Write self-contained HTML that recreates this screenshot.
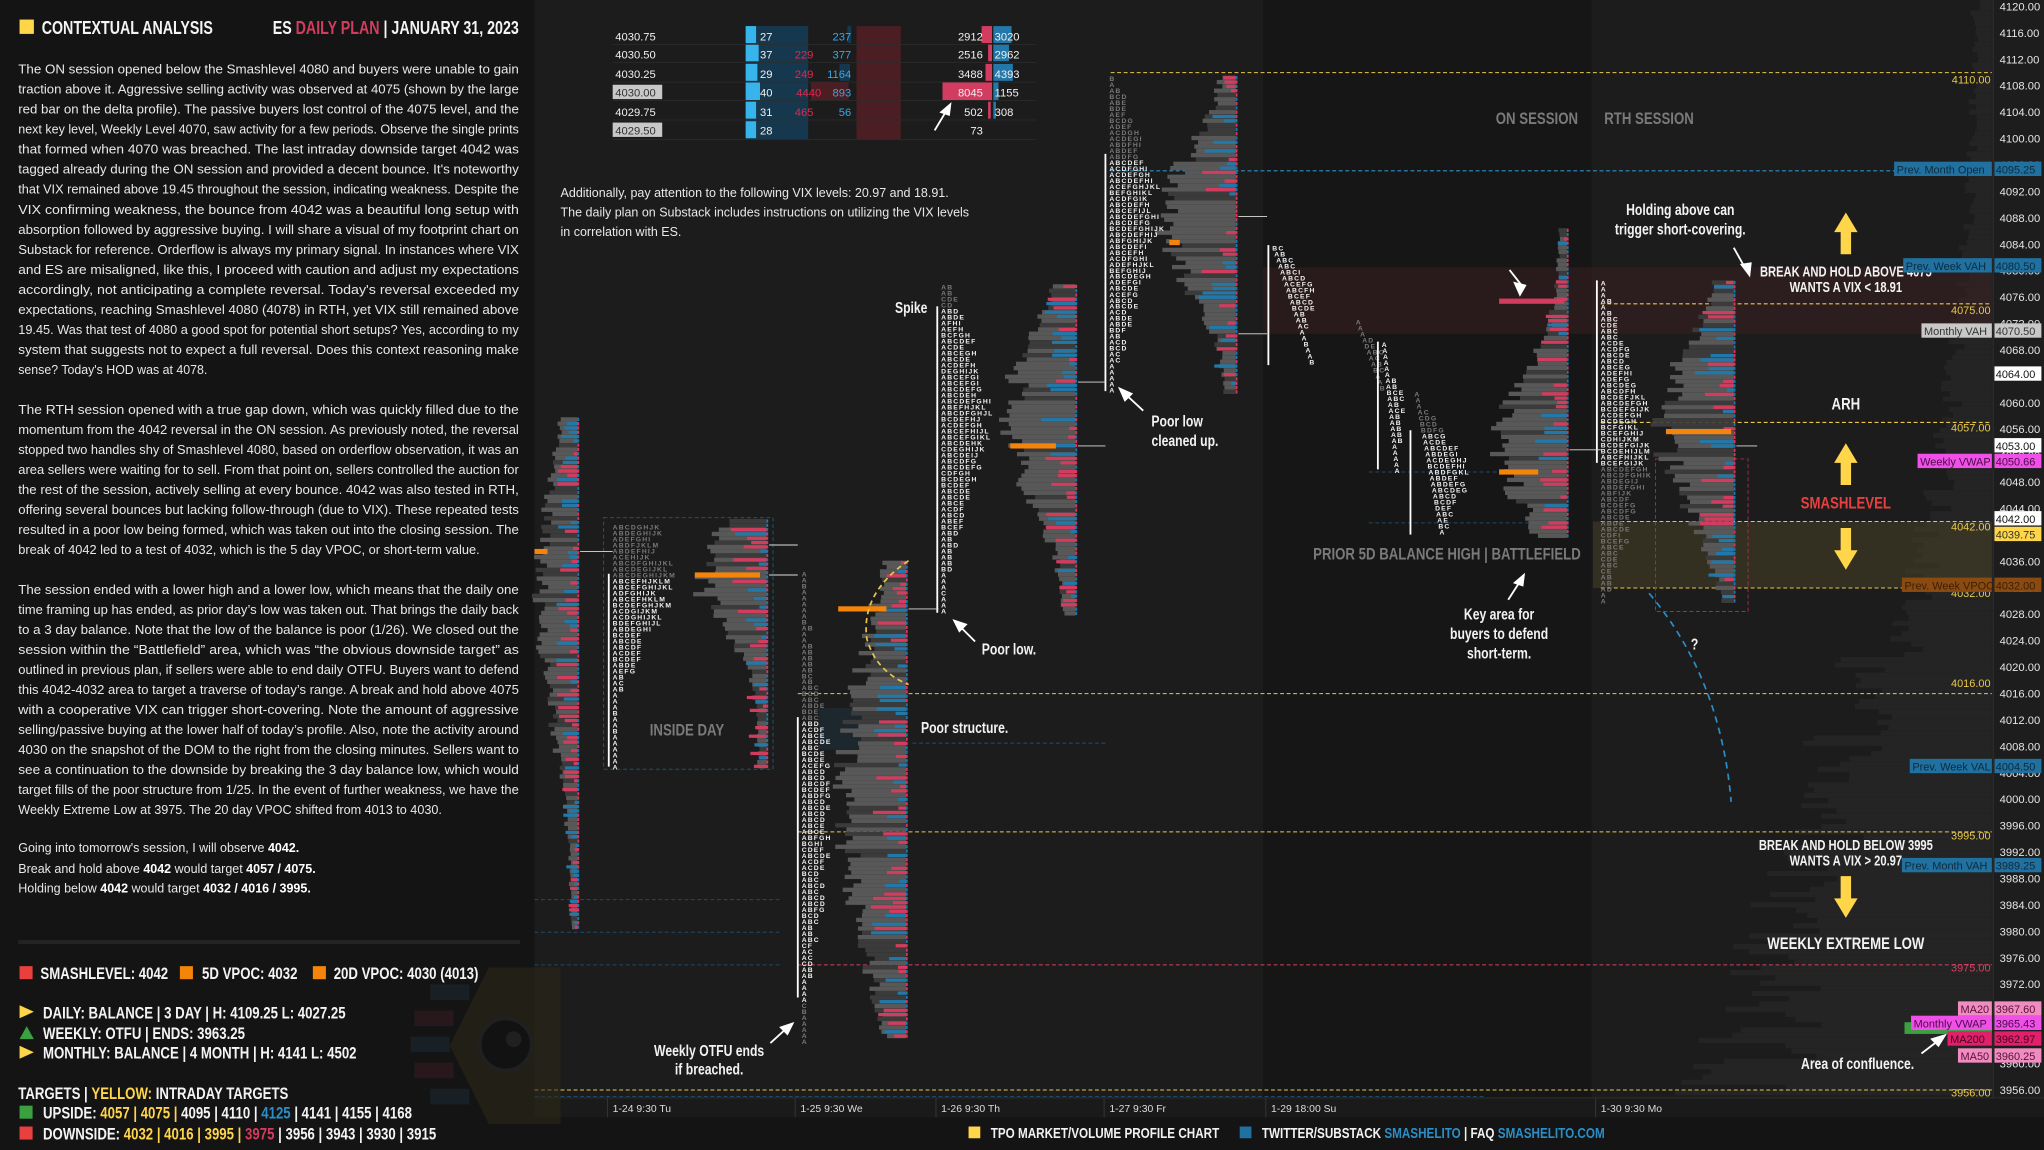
<!DOCTYPE html>
<html><head><meta charset="utf-8"><style>
html,body{margin:0;padding:0;background:#141414;overflow:hidden;width:2044px;height:1150px}
#wrap{position:absolute;left:0;top:0;width:1568px;height:882px;transform:scale(1.30357,1.30385);transform-origin:0 0}
svg{display:block}
.nar{font-family:"Liberation Sans",sans-serif;font-weight:bold}
.body{font-family:"Liberation Sans",sans-serif;font-size:9.6px;fill:#e8e8e8}
.ax{font-family:"Liberation Sans",sans-serif;font-size:8.6px;fill:#e6e6e6}
</style></head><body><div id="wrap">
<svg id="s" width="1568" height="882" viewBox="0 0 1568 882" xmlns="http://www.w3.org/2000/svg">
<rect x="0" y="0" width="1568" height="882" fill="#141414"/>
<rect x="410" y="0" width="1120" height="842" fill="#1c1c1c"/>
<rect x="969" y="0" width="252" height="842" fill="#161616"/>
<g id="bgvol"></g>
<rect x="1528" y="0" width="40" height="842" fill="#1d1d1d"/>
<line x1="1529" y1="0" x2="1529" y2="842" stroke="#2c2c2c"/>
<rect x="410" y="842" width="1158" height="15" fill="#1a1a1a"/>
<line x1="410" y1="842" x2="1568" y2="842" stroke="#2a2a2a"/>

<rect x="969" y="205" width="559" height="51" fill="#3a2020" opacity="0.55"/>
<rect x="1222" y="400" width="306" height="51" fill="#4a4328" opacity="0.5"/>

<g stroke-dasharray="3,2" stroke-width="0.8" fill="none">
<line x1="852" y1="55.7" x2="1528" y2="55.7" stroke="#e8c84a"/>
<line x1="852" y1="131" x2="1455" y2="131" stroke="#2a8fc8"/>
<line x1="1228" y1="233" x2="1528" y2="233" stroke="#e8c84a"/>
<line x1="1228" y1="324" x2="1528" y2="324" stroke="#e8c84a"/>
<line x1="1228" y1="400" x2="1528" y2="400" stroke="#e8c84a"/>
<line x1="1228" y1="451" x2="1528" y2="451" stroke="#e8c84a"/>
<line x1="612" y1="532" x2="1528" y2="532" stroke="#e8c84a"/>
<line x1="612" y1="638" x2="1528" y2="638" stroke="#e8c84a"/>
<line x1="612" y1="740" x2="1528" y2="740" stroke="#d6405e"/>
<line x1="410" y1="836" x2="1528" y2="836" stroke="#e8c84a"/>
<line x1="410" y1="841" x2="1140" y2="841" stroke="#1f4a66"/>
<line x1="410" y1="690" x2="600" y2="690" stroke="#1f4a66"/>
<line x1="410" y1="740" x2="600" y2="740" stroke="#1f4a66"/>
<line x1="410" y1="715" x2="600" y2="715" stroke="#1f4a66"/>
<line x1="700" y1="570" x2="850" y2="570" stroke="#1f4a66"/>
<line x1="1050" y1="362" x2="1200" y2="362" stroke="#1f4a66"/>
<line x1="1050" y1="401" x2="1200" y2="401" stroke="#1f4a66"/>
</g>
<g font-family="Liberation Sans,sans-serif" font-size="8.4" fill="#e8c84a" text-anchor="end">
<text x="1527" y="64">4110.00</text><text x="1527" y="241">4075.00</text><text x="1527" y="331">4057.00</text>
<text x="1527" y="407">4042.00</text><text x="1527" y="458">4032.00</text><text x="1527" y="527">4016.00</text>
<text x="1527" y="644">3995.00</text><text x="1527" y="745" fill="#d6405e">3975.00</text><text x="1527" y="841">3956.00</text>
</g>

<rect x="463" y="397" width="130" height="193" fill="none" stroke="#23506a" stroke-dasharray="3,2" stroke-width="0.8"/>
<rect x="628" y="543" width="57" height="32" fill="#1e2a33" opacity="0.8"/>
<rect x="1270" y="352" width="71" height="117" fill="none" stroke="#a03050" stroke-dasharray="3,2" stroke-width="0.7"/>

<g id="prof"></g>

<path d="M697 430 Q660 455 665 490 Q672 515 697 525" fill="none" stroke="#e8c84a" stroke-width="1.3" stroke-dasharray="4,3"/>
<path d="M1265 455 Q1320 520 1328 615" fill="none" stroke="#2a8fc8" stroke-width="1.3" stroke-dasharray="5,4"/>

<g font-family="Liberation Sans,sans-serif" font-size="8.6">
<rect x="572" y="20" width="48" height="87" fill="#16384e"/>
<rect x="572" y="20" width="8" height="13" fill="#38b4ec"/><rect x="572" y="34" width="10" height="13" fill="#38b4ec"/><rect x="572" y="49" width="9" height="13" fill="#38b4ec"/><rect x="572" y="63" width="11" height="14" fill="#38b4ec"/><rect x="572" y="78" width="8" height="13" fill="#38b4ec"/><rect x="572" y="93" width="8" height="13" fill="#38b4ec"/>
<rect x="657" y="20" width="34" height="87" fill="#4a1e22"/>
<rect x="622" y="63" width="29" height="14" fill="#4a1e22"/>
<rect x="644" y="49" width="8" height="13" fill="#16384e"/><rect x="650" y="20" width="3" height="13" fill="#16384e"/>
<rect x="753" y="20" width="8" height="13" fill="#d23c5f"/><rect x="758" y="34" width="3" height="13" fill="#d23c5f"/><rect x="756" y="49" width="5" height="13" fill="#d23c5f"/><rect x="723" y="63" width="38" height="14" fill="#d23c5f"/><rect x="758" y="78" width="2" height="13" fill="#d23c5f"/>
<rect x="762" y="20" width="14" height="13" fill="#2278a8"/><rect x="762" y="34" width="12" height="13" fill="#2278a8"/><rect x="762" y="49" width="15" height="13" fill="#2278a8"/><rect x="762" y="63" width="4" height="14" fill="#2278a8"/><rect x="762" y="78" width="2" height="13" fill="#2278a8"/>
<g stroke="#2c2c2c" stroke-width="0.6"><line x1="470" y1="34" x2="795" y2="34"/><line x1="470" y1="48" x2="795" y2="48"/><line x1="470" y1="63" x2="795" y2="63"/><line x1="470" y1="77" x2="795" y2="77"/><line x1="470" y1="92" x2="795" y2="92"/><line x1="470" y1="107" x2="795" y2="107"/></g>
<rect x="470" y="65" width="38" height="11" fill="#c8c8c8"/><rect x="470" y="94" width="38" height="11" fill="#c8c8c8"/>
<g fill="#f0f0f0"><text x="472" y="31">4030.75</text><text x="472" y="45">4030.50</text><text x="472" y="60">4030.25</text><text x="472" y="74" fill="#333">4030.00</text><text x="472" y="89">4029.75</text><text x="472" y="103" fill="#333">4029.50</text>
<text x="583" y="31">27</text><text x="583" y="45">37</text><text x="583" y="60">29</text><text x="583" y="74">40</text><text x="583" y="89">31</text><text x="583" y="103">28</text></g>
<g fill="#e0284f" text-anchor="end"><text x="624" y="45">229</text><text x="624" y="60">249</text><text x="630" y="74">4440</text><text x="624" y="89">465</text></g>
<g fill="#38a8e8" text-anchor="end"><text x="653" y="31">237</text><text x="653" y="45">377</text><text x="653" y="60">1164</text><text x="653" y="74">893</text><text x="653" y="89">56</text></g>
<g fill="#f0f0f0" text-anchor="end"><text x="754" y="31">2912</text><text x="754" y="45">2516</text><text x="754" y="60">3488</text><text x="754" y="74">8045</text><text x="754" y="89">502</text><text x="754" y="103">73</text></g>
<g fill="#f0f0f0"><text x="763" y="31">3020</text><text x="763" y="45">2962</text><text x="763" y="60">4393</text><text x="763" y="74">1155</text><text x="763" y="89">308</text></g>
</g>
<g class="body" font-size="9.4"><text x="430" y="151">Additionally, pay attention to the following VIX levels: 20.97 and 18.91.</text>
<text x="430" y="166">The daily plan on Substack includes instructions on utilizing the VIX levels</text>
<text x="430" y="181">in correlation with ES.</text></g>

<g stroke="#fff" stroke-width="1.4" fill="#fff">
<line x1="717" y1="100" x2="726" y2="85"/><polygon points="729,80 722,86 728,88" />
<line x1="1169" y1="221" x2="1158" y2="207"/><polygon points="1166,226 1162,217 1170,219"/>
<line x1="1339" y1="206" x2="1330" y2="190"/><polygon points="1342,211 1336,203 1343,202"/>
<line x1="877" y1="315" x2="863" y2="302"/><polygon points="859,298 868,302 863,307"/>
<line x1="748" y1="492" x2="736" y2="480"/><polygon points="732,476 741,479 736,484"/>
<line x1="591" y1="800" x2="603" y2="789"/><polygon points="608,785 599,788 604,793"/>
<line x1="1157" y1="460" x2="1166" y2="446"/><polygon points="1169,441 1162,447 1168,449"/>
<line x1="1474" y1="808" x2="1487" y2="798"/><polygon points="1492,794 1482,797 1487,802"/>
</g>
<g fill="#ffd54a">
<polygon points="1416,163 1425,178 1420,178 1420,195 1412,195 1412,178 1407,178"/>
<polygon points="1416,340 1425,355 1420,355 1420,372 1412,372 1412,355 1407,355"/>
<polygon points="1416,437 1425,422 1420,422 1420,405 1412,405 1412,422 1407,422"/>
<polygon points="1416,704 1425,689 1420,689 1420,672 1412,672 1412,689 1407,689"/>
</g>
<g class="nar" fill="#f2f2f2" text-anchor="middle" font-size="12">
<text x="1289" y="165">Holding above can</text><text x="1289" y="180">trigger short-covering.</text>
<text x="1416" y="212" font-size="11">BREAK AND HOLD ABOVE 4075</text><text x="1416" y="224" font-size="11">WANTS A VIX &lt; 18.91</text>
<text x="1416" y="314" font-size="13">ARH</text>
<text x="1416" y="390" font-size="13" fill="#e84040">SMASHLEVEL</text>
<text x="1416" y="652" font-size="11">BREAK AND HOLD BELOW 3995</text><text x="1416" y="664" font-size="11">WANTS A VIX &gt; 20.97</text>
<text x="1416" y="728" font-size="13">WEEKLY EXTREME LOW</text>
<text x="1425" y="820">Area of confluence.</text>
<text x="903" y="327">Poor low</text><text x="909" y="342">cleaned up.</text>
<text x="699" y="240">Spike</text>
<text x="774" y="502">Poor low.</text>
<text x="740" y="562">Poor structure.</text>
<text x="544" y="810">Weekly OTFU ends</text><text x="544" y="824">if breached.</text>
<text x="1150" y="475">Key area for</text><text x="1150" y="490">buyers to defend</text><text x="1150" y="505">short-term.</text>
<text x="1300" y="498">?</text>
<g fill="#7a7a7a" font-size="13"><text x="527" y="564">INSIDE DAY</text><text x="1110" y="429">PRIOR 5D BALANCE HIGH  |  BATTLEFIELD</text>
<text x="1179" y="95">ON SESSION</text><text x="1265" y="95">RTH SESSION</text></g>
</g>

<g id="axis"></g>
<g font-family="Liberation Sans,sans-serif" font-size="8.4">
<rect x="1453" y="124" width="75" height="11" fill="#2070a0"/><text x="1455" y="133" fill="#0e2a3c">Prev. Month Open</text><rect x="1530" y="124" width="36" height="11" fill="#2070a0"/><text x="1531" y="133" fill="#0e2a3c">4095.25</text>
<rect x="1460" y="198" width="68" height="11" fill="#2070a0"/><text x="1462" y="207" fill="#0e2a3c">Prev. Week VAH</text><rect x="1530" y="198" width="36" height="11" fill="#2070a0"/><text x="1531" y="207" fill="#0e2a3c">4080.50</text>
<rect x="1474" y="248" width="54" height="11" fill="#c8c8c8"/><text x="1476" y="257" fill="#333">Monthly VAH</text><rect x="1530" y="248" width="36" height="11" fill="#c8c8c8"/><text x="1531" y="257" fill="#333">4070.50</text>
<rect x="1530" y="281" width="36" height="11" fill="#fff"/><text x="1531" y="290" fill="#111">4064.00</text>
<rect x="1530" y="336" width="36" height="11" fill="#fff"/><text x="1531" y="345" fill="#111">4053.00</text>
<rect x="1471" y="348" width="57" height="11" fill="#f050e8"/><text x="1473" y="357" fill="#4a0a48">Weekly VWAP</text><rect x="1530" y="348" width="36" height="11" fill="#f050e8"/><text x="1531" y="357" fill="#4a0a48">4050.66</text>
<rect x="1530" y="392" width="36" height="11" fill="#fff"/><text x="1531" y="401" fill="#111">4042.00</text>
<rect x="1530" y="404" width="36" height="11" fill="#ffd54a"/><text x="1531" y="413" fill="#332">4039.75</text>
<rect x="1459" y="443" width="69" height="11" fill="#8a4a10"/><text x="1461" y="452" fill="#3a2008">Prev. Week VPOC</text><rect x="1530" y="443" width="36" height="11" fill="#8a4a10"/><text x="1531" y="452" fill="#3a2008">4032.00</text>
<rect x="1465" y="582" width="63" height="11" fill="#2070a0"/><text x="1467" y="591" fill="#0e2a3c">Prev. Week VAL</text><rect x="1530" y="582" width="36" height="11" fill="#2070a0"/><text x="1531" y="591" fill="#0e2a3c">4004.50</text>
<rect x="1459" y="658" width="69" height="11" fill="#2070a0"/><text x="1461" y="667" fill="#0e2a3c">Prev. Month VAH</text><rect x="1530" y="658" width="36" height="11" fill="#2070a0"/><text x="1531" y="667" fill="#0e2a3c">3989.25</text>
<rect x="1502" y="768" width="26" height="11" fill="#f08cc0"/><text x="1504" y="777" fill="#5a1038">MA20</text><rect x="1530" y="768" width="36" height="11" fill="#f08cc0"/><text x="1531" y="777" fill="#5a1038">3967.60</text>
<rect x="1461" y="784" width="67" height="9" fill="#3aa040"/>
<rect x="1466" y="779" width="62" height="11" fill="#f050e8"/><text x="1468" y="788" fill="#4a0a48">Monthly VWAP</text><rect x="1530" y="779" width="36" height="11" fill="#f050e8"/><text x="1531" y="788" fill="#4a0a48">3965.43</text>
<rect x="1494" y="791" width="34" height="11" fill="#e0206a"/><text x="1496" y="800" fill="#4a0020">MA200</text><rect x="1530" y="791" width="36" height="11" fill="#e0206a"/><text x="1531" y="800" fill="#4a0020">3962.97</text>
<rect x="1502" y="804" width="26" height="11" fill="#f08cc0"/><text x="1504" y="813" fill="#5a1038">MA50</text><rect x="1530" y="804" width="36" height="11" fill="#f08cc0"/><text x="1531" y="813" fill="#5a1038">3960.25</text>
</g>

<g font-family="Liberation Sans,sans-serif" font-size="8" fill="#ddd" stroke="none">
<text x="470" y="853">1-24  9:30 Tu</text><text x="614" y="853">1-25  9:30 We</text><text x="722" y="853">1-26  9:30 Th</text>
<text x="851" y="853">1-27  9:30 Fr</text><text x="975" y="853">1-29  18:00 Su</text><text x="1228" y="853">1-30  9:30 Mo</text>
</g>
<g stroke="#333" stroke-width="0.8"><line x1="466" y1="842" x2="466" y2="857"/><line x1="610" y1="842" x2="610" y2="857"/><line x1="718" y1="842" x2="718" y2="857"/><line x1="847" y1="842" x2="847" y2="857"/><line x1="971" y1="842" x2="971" y2="857"/><line x1="1224" y1="842" x2="1224" y2="857"/></g>

<g class="nar" font-size="11.5" fill="#f2f2f2">
<rect x="743" y="864" width="9" height="9" fill="#ffd54a"/><text x="760" y="873">TPO MARKET/VOLUME PROFILE CHART</text>
<rect x="951" y="864" width="9" height="9" fill="#2070a0"/><text x="968" y="873">TWITTER/SUBSTACK <tspan fill="#2a8fc8">SMASHELITO</tspan>  |  FAQ <tspan fill="#2a8fc8">SMASHELITO.COM</tspan></text>
</g>

<rect x="15" y="15" width="11" height="11" fill="#ffd54a"/>
<g class="nar" fill="#f4f4f4" font-size="14">
<text x="32" y="26">CONTEXTUAL ANALYSIS</text>
<text x="398" y="26" text-anchor="end">ES <tspan fill="#d23c5f">DAILY PLAN</tspan>  |  JANUARY 31, 2023</text>
</g>
<g class="body" id="para"></g>
<rect x="14" y="721" width="385" height="3" fill="#242424"/>

<g opacity="0.55">
<polygon points="375,742 430,742 430,862 375,862 345,802" fill="#2e2a18"/>
<rect x="330" y="755" width="30" height="12" fill="#1c2a34"/><rect x="318" y="775" width="30" height="12" fill="#3a1c22"/><rect x="315" y="795" width="30" height="12" fill="#1c2a34"/><rect x="318" y="815" width="30" height="12" fill="#3a1c22"/><rect x="330" y="835" width="30" height="12" fill="#1c2a34"/>
<circle cx="388" cy="801" r="20" fill="#111" stroke="#2a2a2a" stroke-width="3"/><circle cx="394" cy="797" r="6" fill="#2a2a2a"/>
</g>

<g class="nar" fill="#f4f4f4" font-size="13">
<rect x="15" y="741" width="10" height="10" fill="#e8403c"/><text x="31" y="751">SMASHLEVEL: 4042</text>
<rect x="138" y="741" width="10" height="10" fill="#f5840a"/><text x="155" y="751">5D VPOC: 4032</text>
<rect x="240" y="741" width="10" height="10" fill="#f5840a"/><text x="256" y="751">20D VPOC: 4030 (4013)</text>
<polygon points="15,771 26,776 15,781" fill="#ffd54a"/><text x="33" y="781">DAILY: BALANCE  |  3 DAY  |  H: 4109.25  L: 4027.25</text>
<polygon points="15,797 20.5,787 26,797" fill="#3aa040"/><text x="33" y="797">WEEKLY: OTFU  |  ENDS: 3963.25</text>
<polygon points="15,802 26,807 15,812" fill="#ffd54a"/><text x="33" y="812">MONTHLY: BALANCE  |  4 MONTH  |  H: 4141  L: 4502</text>
<text x="14" y="843">TARGETS  |  <tspan fill="#ffd54a">YELLOW:</tspan> INTRADAY TARGETS</text>
<rect x="15" y="848" width="10" height="10" fill="#3aa040"/><text x="33" y="858">UPSIDE: <tspan fill="#ffd54a">4057 | 4075 |</tspan> 4095 | 4110 | <tspan fill="#2a8fc8">4125</tspan> | 4141 | 4155 | 4168</text>
<rect x="15" y="864" width="10" height="10" fill="#e8403c"/><text x="33" y="874">DOWNSIDE: <tspan fill="#ffd54a">4032 | 4016 | 3995 |</tspan> <tspan fill="#d23c5f">3975</tspan> | 3956 | 3943 | 3930 | 3915</text>
</g>
</svg></div>
<script>
(function(){
var NS="http://www.w3.org/2000/svg";
function el(p,t,a,txt){var e=document.createElementNS(NS,t);for(var k in a)e.setAttribute(k,a[k]);if(txt!=null)e.textContent=txt;p.appendChild(e);return e;}
function rng(s){return function(){s|=0;s=s+0x6D2B79F5|0;var t=Math.imul(s^s>>>15,1|s);t=t+Math.imul(t^t>>>7,61|t)^t;return((t^t>>>14)>>>0)/4294967296;}}
var P=document.getElementById('para');
var L=[
[53,"The ON session opened below the Smashlevel 4080 and buyers were unable to gain"],
[0,"traction above it. Aggressive selling activity was observed at 4075 (shown by the large"],
[0,"red bar on the delta profile). The passive buyers lost control of the 4075 level, and the"],
[0,"next key level, Weekly Level 4070, saw activity for a few periods. Observe the single prints"],
[0,"that formed when 4070 was breached. The last intraday downside target 4042 was"],
[0,"tagged already during the ON session and provided a decent bounce. It's noteworthy"],
[0,"that VIX remained above 19.45 throughout the session, indicating weakness. Despite the"],
[0,"VIX confirming weakness, the bounce from 4042 was a beautiful long setup with"],
[0,"absorption followed by aggressive buying. I will share a visual of my footprint chart on"],
[0,"Substack for reference. Orderflow is always my primary signal. In instances where VIX"],
[0,"and ES are misaligned, like this, I proceed with caution and adjust my expectations"],
[0,"accordingly, not anticipating a complete reversal. Today's reversal exceeded my"],
[0,"expectations, reaching Smashlevel 4080 (4078) in RTH, yet VIX still remained above"],
[0,"19.45. Was that test of 4080 a good spot for potential short setups? Yes, according to my"],
[0,"system that suggests not to expect a full reversal. Does this context reasoning make"],
[0,"sense? Today's HOD was at 4078.",145],
[314,"The RTH session opened with a true gap down, which was quickly filled due to the"],
[0,"momentum from the 4042 reversal in the ON session. As previously noted, the reversal"],
[0,"stopped two handles shy of Smashlevel 4080, based on orderflow observation, it was an"],
[0,"area sellers were waiting for to sell. From that point on, sellers controlled the auction for"],
[0,"the rest of the session, actively selling at every bounce. 4042 was also tested in RTH,"],
[0,"offering several bounces but lacking follow-through (due to VIX). These repeated tests"],
[0,"resulted in a poor low being formed, which was taken out into the closing session. The"],
[0,"break of 4042 led to a test of 4032, which is the 5 day VPOC, or short-term value.",354],
[452,"The session ended with a lower high and a lower low, which means that the daily one"],
[0,"time framing up has ended, as prior day\u2019s low was taken out. That brings the daily back"],
[0,"to a 3 day balance. Note that the low of the balance is poor (1/26). We closed out the"],
[0,"session within the \u201cBattlefield\u201d area, which was \u201cthe obvious downside target\u201d as"],
[0,"outlined in previous plan, if sellers were able to end daily OTFU. Buyers want to defend"],
[0,"this 4042-4032 area to target a traverse of today\u2019s range. A break and hold above 4075"],
[0,"with a cooperative VIX can trigger short-covering. Note the amount of aggressive"],
[0,"selling/passive buying at the lower half of today\u2019s profile. Also, note the activity around"],
[0,"4030 on the snapshot of the DOM to the right from the closing minutes. Sellers want to"],
[0,"see a continuation to the downside by breaking the 3 day balance low, which would"],
[0,"target fills of the poor structure from 1/25. In the event of further weakness, we have the"],
[0,"Weekly Extreme Low at 3975. The 20 day VPOC shifted from 4013 to 4030.",325]];
var y=0;
L.forEach(function(l){ if(l[0])y=l[0]; else y+=15.35;
 var w=l[2]||384; el(P,'text',{x:14,y:y+3.5,textLength:w,lengthAdjust:'spacingAndGlyphs'},l[1]);});
var g=el(P,'text',{x:14,y:653.5});g.innerHTML='Going into tomorrow\'s session, I will observe <tspan font-weight="bold" fill="#fff">4042.</tspan>';
g=el(P,'text',{x:14,y:669.5});g.innerHTML='Break and hold above <tspan font-weight="bold" fill="#fff">4042</tspan> would target <tspan font-weight="bold" fill="#fff">4057 / 4075.</tspan>';
g=el(P,'text',{x:14,y:684.5});g.innerHTML='Holding below <tspan font-weight="bold" fill="#fff">4042</tspan> would target <tspan font-weight="bold" fill="#fff">4032 / 4016 / 3995.</tspan>';

var A=document.getElementById('axis');
for(var p=4120;p>=3956;p-=4){var yy=5+(4120-p)*5.067;el(A,'text',{x:1534,y:yy+3,'class':'ax'},p.toFixed(2));}

var B=document.getElementById('bgvol');var r=rng(7);
for(var yy=0;yy<840;yy+=4){var base=15+ (yy/840)*(yy/840)*170+ (yy>500?40:0); var w=base*(0.6+0.5*r()); el(B,'rect',{x:1528-w,y:yy,width:w,height:4,fill:'#242424'});}

var G=document.getElementById('prof');
function profile(xr,top,bot,w,peak,spread,seed,poc){
 var r=rng(seed);
 for(var y=top;y<bot;y+=3.3){var t=(y-top)/(bot-top);var sh=0.12+0.88*Math.exp(-Math.pow((t-peak)/spread,2));
  var gw=w*sh*(0.7+0.4*r()); el(G,'rect',{x:xr-gw,y:y,width:gw,height:3.3,fill:(r()<0.25?'#3b3b3b':'#585858')});
  if(r()<0.55){var dw=w*(0.08+0.45*r())*Math.min(1,sh+0.35);el(G,'rect',{x:xr-dw,y:y+0.4,width:dw,height:2.5,fill:r()<0.5?'#d23c5f':'#2278a8'});}
  el(G,'rect',{x:xr,y:y+0.4,width:1.3,height:2.5,fill:r()<0.5?'#d23c5f':'#2278a8'});
 }
 if(poc)el(G,'rect',{x:poc[0],y:poc[1]-2,width:poc[2],height:4,fill:'#f5840a'});
}
var AL="ABCDEFGHIJKLM";
function letters(x,top,bot,seed,peak,maxLen,vaTop,vaBot,dx){
 var r=rng(seed);
 for(var y=top;y<bot;y+=4.6){var t=(y-top)/(bot-top);var sh=Math.exp(-Math.pow((t-peak)/0.35,2));
  var k=Math.max(1,Math.round(maxLen*sh*(0.7+0.4*r())));var s=[];
  for(var i=0;i<AL.length&&s.length<k;i++){if(r()<0.75)s.push(AL[i]);}
  var inva=(y>=vaTop&&y<=vaBot);
  el(G,'text',{x:x+(dx?dx*t:0),y:y+4,'font-family':'Liberation Sans,sans-serif','font-size':5.2,'font-weight':'bold','letter-spacing':0.9,fill:inva?'#f2f2f2':'#7a7a7a'},s.join(''));
 }
 if(vaTop!=null)el(G,'line',{x1:x-3,y1:vaTop,x2:x-3,y2:vaBot,stroke:'#fff','stroke-width':1.4});
}
profile(443,320,712,32,0.35,0.35,11,[410,423,10]);
profile(588,398,588,55,0.22,0.3,12,[533,441,50]);
letters(470,402,588,21,0.2,12,440,588);
profile(695,430,796,52,0.5,0.45,13,[643,467,37]);
letters(615,438,798,22,0.5,5,550,765);
profile(825,218,470,55,0.4,0.35,14,[775,342,35]);
letters(722,218,470,23,0.4,9,235,470);
profile(948,58,300,60,0.45,0.3,15,[897,186,8]);
letters(851,58,300,24,0.45,9,118,300);
profile(1202,175,410,55,0.7,0.3,16,[1150,362,30]);
letters(976,188,280,25,0.3,5,188,280,30);
letters(1040,245,300,26,0.5,3,null,null,20);
letters(1060,262,360,27,0.5,3,262,360,10);
letters(1085,300,410,28,0.5,7,330,410,20);
profile(1330,215,460,60,0.45,0.35,17,[1278,331,50]);
letters(1228,215,460,29,0.5,9,215,355);
[[443,423,470],[588,441,612],[695,467,720],[825,342,848],[948,166,972],[1202,345,1228],[1330,342,1348],[588,418,612],[825,293,848],[948,256,972]].forEach(function(a){el(G,'line',{x1:a[0]+2,y1:a[1],x2:a[2],y2:a[1],stroke:'#ddd','stroke-width':0.7});});
el(G,'rect',{x:1150,y:229,width:50,height:4,fill:'#d23c5f'});

// condense "narrow" texts
var ts=document.querySelectorAll('.nar text');
for(var i=0;i<ts.length;i++){var t=ts[i];var len=t.getComputedTextLength();if(len>0){t.setAttribute('textLength',(len*0.78).toFixed(1));t.setAttribute('lengthAdjust','spacingAndGlyphs');}}
})();
</script>
</body></html>
